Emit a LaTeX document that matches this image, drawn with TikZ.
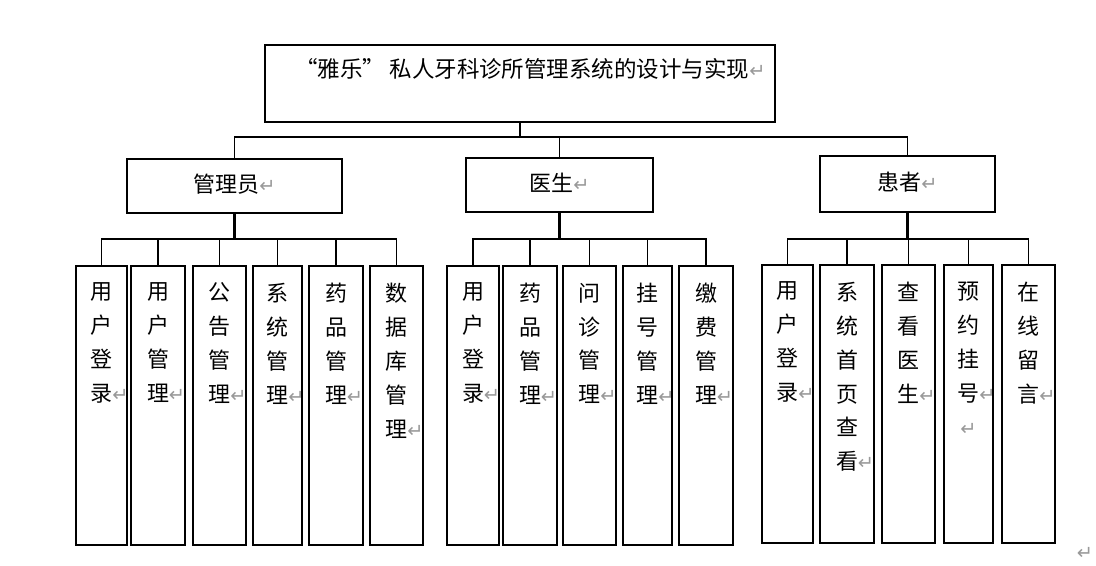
\documentclass[tikz,border=0pt]{standalone}
\usepackage{fontspec}
\setmainfont{Noto Sans CJK SC}
\newfontfamily\flechas{DejaVu Sans}
\newdimen\pxl \pxl=0.02cm
% marca de parrafo
\newcommand{\ret}{{\flechas\color{gray!80}\fontsize{11}{11}\selectfont ↵}}
\newcommand{\fin}{\rlap{\ret}}
% comillas de ancho completo
\newcommand{\abre}{\makebox[1.2em][r]{“}}
\newcommand{\cierra}{\makebox[1.2em][l]{”}}
% caja: ancho, alto, margen arriba, texto
\newcommand{\marco}[4]{\parbox[c][#2\pxl][t]{#1\pxl}{\centering\vspace*{#3\pxl}#4}}

\begin{document}
\begin{tikzpicture}[x=0.02cm,y=-0.02cm,
    caja/.style={draw,inner sep=0pt,line width=1.1pt,font=\fontsize{12.5}{19.3}\selectfont},
    rama/.style={line width=1.1pt},
    tronco/.style={line width=1.7pt}]
    \useasboundingbox (0,0) rectangle (1096,565);

    % Titulo
    \node[caja] (tit) at (520,83.5) {\marco{510}{77}{13}{\fontsize{12.8}{19.3}\selectfont\abre 雅乐\cierra 私人牙科诊所管理系统的设计与实现\fin}};

    % Roles
    \node[caja] (adm) at (234.5,186) {\marco{215}{54}{15}{管理员\ret}};
    \node[caja] (med) at (559.5,185) {\marco{187}{54}{15}{医生\ret}};
    \node[caja] (pac) at (907.5,184) {\marco{175}{56}{16}{患者\ret}};

    % Funciones administrador
    \foreach \n/\x/\w/\t in {a1/101.5/51/{用\\户\\登\\录\fin},
        a2/158/54/{用\\户\\管\\理\fin},
        a3/219.5/53/{公\\告\\管\\理\fin},
        a4/277.5/49/{系\\统\\管\\理\fin},
        a5/336/54/{药\\品\\管\\理\fin},
        a6/396.5/53/{数\\据\\库\\管\\理\fin}}
    \node[caja] (\n) at (\x,405.5) {\marco{\w}{279}{17}{\t}};

    % Funciones medico
    \foreach \n/\x/\w/\t in {m1/473/52/{用\\户\\登\\录\fin},
        m2/530/54/{药\\品\\管\\理\fin},
        m3/589.5/53/{问\\诊\\管\\理\fin},
        m4/647.5/49/{挂\\号\\管\\理\fin},
        m5/706/54/{缴\\费\\管\\理\fin}}
    \node[caja] (\n) at (\x,405.5) {\marco{\w}{279}{17}{\t}};

    % Funciones paciente
    \foreach \n/\x/\w/\t in {p1/787.5/51/{用\\户\\登\\录\fin},
        p2/847/54/{系\\统\\首\\页\\查\\看\fin},
        p3/908.5/53/{查\\看\\医\\生\fin},
        p4/968.5/49/{预\\约\\挂\\号\fin\\\ret},
        p5/1028.5/53/{在\\线\\留\\言\fin}}
    \node[caja] (\n) at (\x,404) {\marco{\w}{278}{17}{\t}};

    % Lineas
    \coordinate (tit-bus) at (tit.south |- 0,137);
    \coordinate (adm-bus) at (adm.south |- 0,239);
    \coordinate (med-bus) at (med.south |- 0,239);
    \coordinate (pac-bus) at (pac.south |- 0,239);
    \draw[rama] (tit.south) -- (tit-bus);
    \foreach \n in {adm,med,pac}
        \draw[rama] (\n.north) |- (tit-bus);
    \foreach \n in {adm,med,pac}
        \draw[tronco] (\n.south) -- (\n-bus);
    \foreach \n in {a1,a2,a3,a4,a5,a6}
        \draw[rama] (\n.north) |- (adm-bus);
    \foreach \n in {m1,m2,m3,m4,m5}
        \draw[rama] (\n.north) |- (med-bus);
    \foreach \n in {p1,p2,p3,p4,p5}
        \draw[rama] (\n.north) |- (pac-bus);

    % marca final
    \node (fin) at (1085,553) {\ret};
\end{tikzpicture}
\end{document}
